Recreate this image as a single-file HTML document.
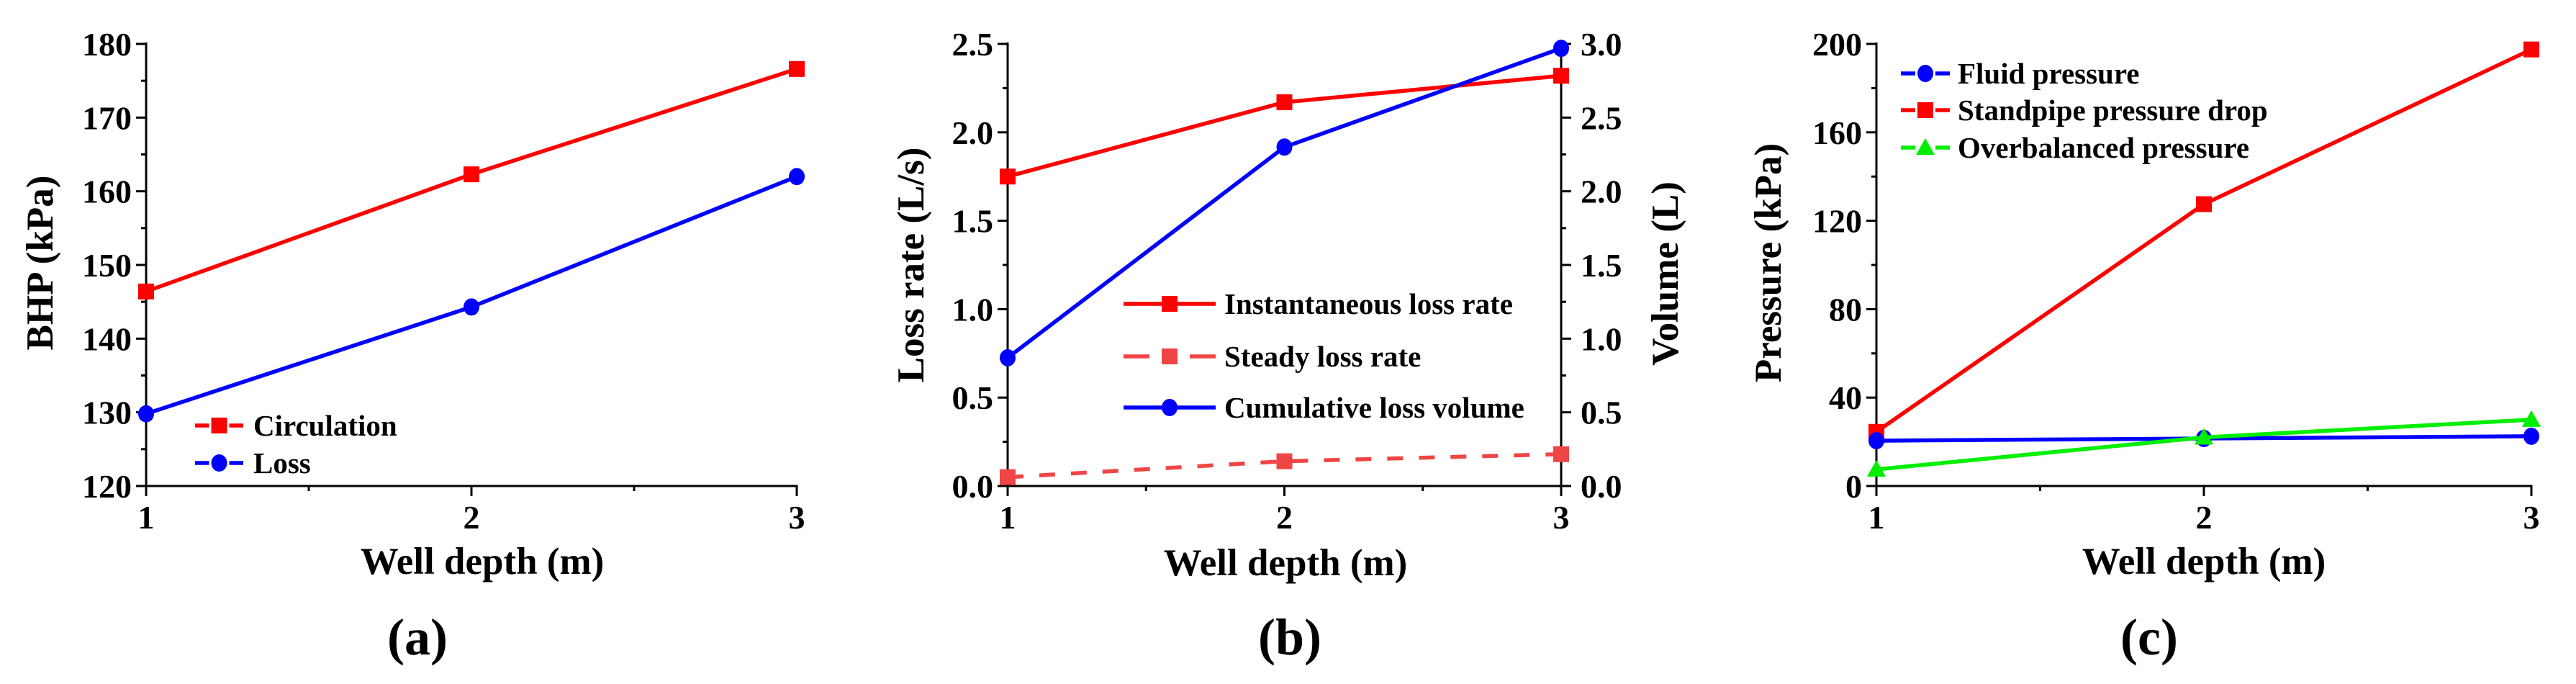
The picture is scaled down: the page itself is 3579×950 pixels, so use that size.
<!DOCTYPE html>
<html><head><meta charset="utf-8"><style>
html,body{margin:0;padding:0;background:#fff}
svg{display:block}
text{font-family:"Liberation Serif","DejaVu Serif","Times New Roman",serif;font-weight:bold;fill:#000}
</style></head>
<body>
<svg id="fig" width="3579" height="950" viewBox="0 0 3579 950" xmlns="http://www.w3.org/2000/svg" font-family="Liberation Serif, DejaVu Serif, serif" font-weight="bold"></svg>
<script>
const xCats = [1, 2, 3];
const aCirculation = [146.4, 162.3, 176.6];
const aLoss = [129.8, 144.3, 162.0];
const aTicks = [120, 130, 140, 150, 160, 170, 180];
const bInstant = [1.75, 2.17, 2.32];
const bSteady = [0.05, 0.14, 0.18];
const bCumVolume = [0.87, 2.30, 2.97];
const bLeftTicks = [0.0, 0.5, 1.0, 1.5, 2.0, 2.5];
const bRightTicks = [0.0, 0.5, 1.0, 1.5, 2.0, 2.5, 3.0];
const cFluid = [20.5, 21.5, 22.5];
const cStandpipe = [24.5, 127.5, 197.5];
const cOverbal = [7.5, 22, 30];
const cTicks = [0, 40, 80, 120, 160, 200];

const svg = document.getElementById('fig');
const NS = 'http://www.w3.org/2000/svg';
function mk(tag, attrs, parent){const e=document.createElementNS(NS,tag);for(const k in attrs)e.setAttribute(k,attrs[k]);(parent||svg).appendChild(e);return e;}
function txt(s, attrs, parent){attrs['font-family']='Liberation Serif, DejaVu Serif, serif';attrs['font-weight']='bold';const e=mk('text',attrs,parent);e.textContent=s;return e;}
const TOP=61, BOT=675;
function scaleX(x0,x1){return v=>x0+(v-1)/2*(x1-x0);}
function scaleY(min,max){return v=>BOT-(v-min)/(max-min)*(BOT-TOP);}

function marker(g,type,x,y,color){
  let m;
  if(type==='sq'){m=mk('rect',{x:x-11,y:y-11,width:22,height:22,fill:color},g);}
  else if(type==='ci'){m=mk('ellipse',{cx:x,cy:y,rx:11,ry:12,fill:color},g);}
  else {m=mk('polygon',{points:`${x},${y-13} ${x+13},${y+10} ${x-13},${y+10}`,fill:color},g);}
  
  
}
function series(name,vals,sx,sy,color,type,dash){
  const g=mk('g',{});
  
  
  const pts=vals.map((v,i)=>`${sx(xCats[i])},${sy(v)}`).join(' ');
  const a={points:pts,fill:'none',stroke:color,'stroke-width':5.5};
  if(dash)a['stroke-dasharray']=dash;
  mk('polyline',a,g);
  vals.forEach((v,i)=>marker(g,type,sx(xCats[i]),sy(v),color));
}
function axes(name,x0,x1,sy,ticks,minorStep,fmt,right){
  const g=mk('g',{});
  
  
  mk('line',{x1:x0,y1:TOP-2,x2:x0,y2:BOT+1.5,stroke:'#000','stroke-width':3},g);
  mk('line',{x1:x0-1.5,y1:BOT,x2:x1+1.5,y2:BOT,stroke:'#000','stroke-width':3},g);
  if(right) mk('line',{x1:x1,y1:TOP-2,x2:x1,y2:BOT+1.5,stroke:'#000','stroke-width':3},g);
  const sx=scaleX(x0,x1);
  [1,1.5,2,2.5,3].forEach(v=>{
    const maj=Number.isInteger(v);
    mk('line',{x1:sx(v),y1:BOT,x2:sx(v),y2:BOT+(maj?14:7),stroke:'#000','stroke-width':3},g);
    if(maj){const t=txt(String(v),{x:sx(v),y:734,'font-size':46,'text-anchor':'middle'},g);
      }
  });
  const lo=ticks[0],hi=ticks[ticks.length-1];
  for(let v=lo;v<=hi+1e-9;v+=minorStep){
    const maj=ticks.some(t=>Math.abs(t-v)<1e-9);
    mk('line',{x1:x0,y1:sy(v),x2:x0-(maj?14:7),y2:sy(v),stroke:'#000','stroke-width':3},g);
  }
  ticks.forEach(v=>{
    const t=txt(fmt(v),{x:x0-20,y:sy(v)+16,'font-size':46,'text-anchor':'end'},g);
    
  });
  return sx;
}
function title(s,x,y,rot,name,size){
  const a={x:x,y:y,'font-size':size||53,'text-anchor':'middle','dominant-baseline':'central'};
  if(rot)a.transform=`rotate(-90 ${x} ${y})`;
  const t=txt(s,a);
  
}
function legendEntry(x0,x1,y,tx,label,color,type,style){
  const g=mk('g',{});
  
  
  const mid=(x0+x1)/2;
  if(style==='solid'){mk('line',{x1:x0,y1:y,x2:x1,y2:y,stroke:color,'stroke-width':5.5},g);}
  else if(style==='dash'){mk('line',{x1:x0,y1:y,x2:mid-28,y2:y,stroke:color,'stroke-width':5.5},g);mk('line',{x1:mid+28,y1:y,x2:x1,y2:y,stroke:color,'stroke-width':5.5},g);}
  else {mk('line',{x1:x0,y1:y,x2:mid-14,y2:y,stroke:color,'stroke-width':5.5},g);mk('line',{x1:mid+14,y1:y,x2:x1,y2:y,stroke:color,'stroke-width':5.5},g);}
  marker(g,type,mid,y,color);
  txt(label,{x:tx,y:y+14,'font-size':41},g);
}

// Panel (a)
const ayA=scaleY(120,180);
const sxA=axes('axes-a',203,1107,ayA,aTicks,5,v=>String(v),false);
series('series-circulation',aCirculation,sxA,ayA,'#ff0000','sq');
series('series-loss',aLoss,sxA,ayA,'#0000ff','ci');
title('BHP (kPa)',56,365,true,'y-axis-title-a');
title('Well depth (m)',670,780,false,'x-axis-title-a');
title('(a)',580,885,false,'panel-label-a',72);
legendEntry(271,338,591,352,'Circulation','#ff0000','sq','short');
legendEntry(271,338,643,352,'Loss','#0000ff','ci','short');

// Panel (b)
const ayB=scaleY(0,2.5), ayB2=scaleY(0,3);
const sxB=axes('axes-b',1400,2169,ayB,bLeftTicks,0.25,v=>v.toFixed(1),true);
(function(){
  const g=mk('g',{});
  
  
  for(let v=0;v<=3+1e-9;v+=0.25){
    const maj=bRightTicks.some(t=>Math.abs(t-v)<1e-9);
    mk('line',{x1:2169,y1:ayB2(v),x2:2169+(maj?14:7),y2:ayB2(v),stroke:'#000','stroke-width':3},g);
  }
  bRightTicks.forEach(v=>{
    const t=txt(v.toFixed(1),{x:2196,y:ayB2(v)+16,'font-size':46},g);
    
  });
})();
series('series-instantaneous-loss-rate',bInstant,sxB,ayB,'#ff0000','sq');
series('series-steady-loss-rate',bSteady,sxB,ayB,'#f04545','sq','22,22');
series('series-cumulative-loss-volume',bCumVolume,sxB,ayB2,'#0000ff','ci');
title('Loss rate (L/s)',1266,368,true,'y-axis-title-b');
title('Volume (L)',2314,380,true,'y2-axis-title-b');
title('Well depth (m)',1786,782,false,'x-axis-title-b');
title('(b)',1792,885,false,'panel-label-b',72);
legendEntry(1561,1689,422,1701,'Instantaneous loss rate','#ff0000','sq','solid');
legendEntry(1561,1689,495,1701,'Steady loss rate','#f04545','sq','dash');
legendEntry(1561,1689,566,1701,'Cumulative loss volume','#0000ff','ci','solid');

// Panel (c)
const ayC=scaleY(0,200);
const sxC=axes('axes-c',2607,3517,ayC,cTicks,20,v=>String(v),false);
series('series-standpipe-pressure-drop',cStandpipe,sxC,ayC,'#ff0000','sq');
series('series-fluid-pressure',cFluid,sxC,ayC,'#0000ff','ci');
series('series-overbalanced-pressure',cOverbal,sxC,ayC,'#00ee00','tr');
title('Pressure (kPa)',2457,365,true,'y-axis-title-c');
title('Well depth (m)',3062,780,false,'x-axis-title-c');
title('(c)',2986,885,false,'panel-label-c',72);
legendEntry(2641,2709,102,2720,'Fluid pressure','#0000ff','ci','short');
legendEntry(2641,2709,153,2720,'Standpipe pressure drop','#ff0000','sq','short');
legendEntry(2641,2709,205,2720,'Overbalanced pressure','#00ee00','tr','short');
</script>
</body></html>
